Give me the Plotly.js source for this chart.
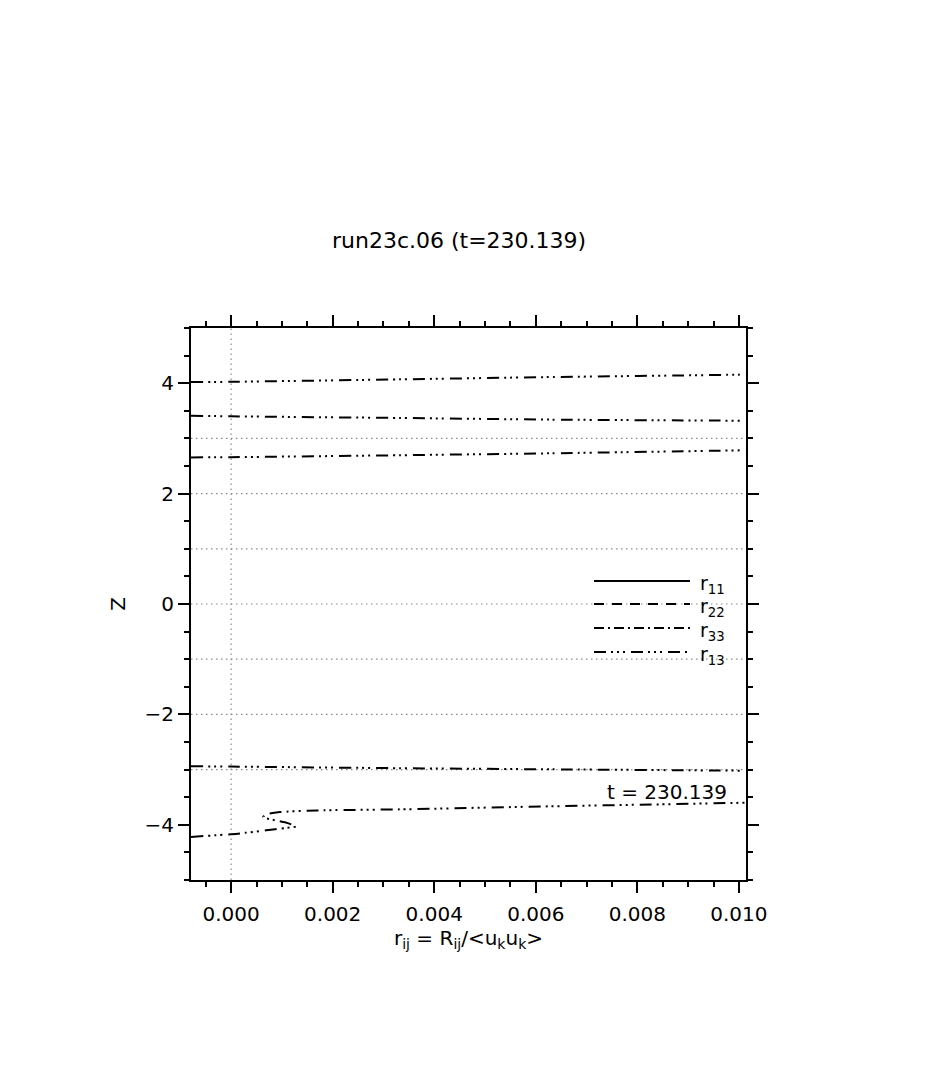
<!DOCTYPE html>
<html>
<head>
<meta charset="utf-8">
<script src="https://cdn.plot.ly/plotly-3.0.1.min.js"></script>
<style>
  html, body { margin: 0; padding: 0; background: #fff; }
  #chart { width: 935px; height: 1065px; }
</style>
</head>
<body>
<div id="chart"></div>
<script>
// ---- data ----
const chartTitle = "run23c.06 (t=230.139)";
const timeLabel = "t = 230.139";
const seriesNames = ["r<sub>11</sub>", "r<sub>22</sub>", "r<sub>33</sub>", "r<sub>13</sub>"];

// r13 branches (x = r13, z = Z)
const r13_a_x = [-0.00079, 0.0, 0.00333, 0.00618, 0.0100, 0.01014];
const r13_a_z = [4.02, 4.025, 4.07, 4.11, 4.155, 4.16];

const r13_b_x = [-0.00079, 0.0, 0.00333, 0.00628, 0.01014];
const r13_b_z = [3.41, 3.40, 3.37, 3.34, 3.32];

const r13_c_x = [-0.00079, 0.0, 0.00333, 0.00628, 0.01014];
const r13_c_z = [2.655, 2.66, 2.695, 2.73, 2.785];

const r13_d_x = [-0.00079, 0.0, 0.00333, 0.00628, 0.01014];
const r13_d_z = [-2.94, -2.945, -2.975, -2.995, -3.02];

const r13_e_x = [-0.00079, 0.0, 0.00018, 0.00069, 0.00106, 0.00128, 0.00106, 0.00077, 0.00063, 0.00069, 0.00096, 0.00169, 0.00333, 0.00628, 0.00844, 0.01014];
const r13_e_z = [-4.22, -4.17, -4.155, -4.10, -4.06, -4.03, -3.955, -3.90, -3.86, -3.81, -3.77, -3.74, -3.72, -3.665, -3.63, -3.60];

// reference grid levels
const gridZ = [-3, -2, -1, 0, 1, 2, 3];
const gridX = [0];

// ---- styles ----
const FONT = "DejaVu Sans, Liberation Sans, sans-serif";
const dashes = {
  r11: "solid",
  r22: "10px,8px",
  r33: "10px,4px,2px,4px",
  r13: "12px,5px,2px,4px,2px,4px,2px,6px"
};

const r13Branches = [
  [r13_a_x, r13_a_z], [r13_b_x, r13_b_z], [r13_c_x, r13_c_z],
  [r13_d_x, r13_d_z], [r13_e_x, r13_e_z]
];

const traces = r13Branches.map(([x, z], i) => ({
  type: "scatter", mode: "lines", x: x, y: z,
  name: "r13", showlegend: false, hoverinfo: "skip",
  line: { color: "#000", width: 2, dash: dashes.r13, shape: "spline", smoothing: 0.6 }
}));

const XR = [-0.00079, 0.01014];
const shapes = [];
gridZ.forEach(z => shapes.push({
  type: "line", xref: "x", yref: "y", x0: XR[0], x1: XR[1], y0: z, y1: z,
  layer: "below", line: { color: "#8a8a8a", width: 1.2, dash: "1.5px,3.5px" }
}));
gridX.forEach(x => shapes.push({
  type: "line", xref: "x", yref: "y", x0: x, x1: x, y0: -5, y1: 5,
  layer: "below", line: { color: "#8a8a8a", width: 1.2, dash: "1.5px,3.5px" }
}));

// manual legend (paper coords of plot area: x 191..746 px, y 328..880 px)
const W = 555, H = 552, L = 191, T = 328;
const px = v => (v - L) / W;
const py = v => (T + H - v) / H;
const legendKeys = ["r11", "r22", "r33", "r13"];
const legendRows = [581, 604, 628, 652];
const annotations = [];
legendKeys.forEach((k, i) => {
  shapes.push({
    type: "line", xref: "paper", yref: "paper",
    x0: px(594), x1: px(690), y0: py(legendRows[i]), y1: py(legendRows[i]),
    line: { color: "#000", width: 2, dash: dashes[k] }
  });
  annotations.push({
    xref: "paper", yref: "paper", x: px(698), y: py(legendRows[i] + 3),
    xanchor: "left", yanchor: "middle", showarrow: false,
    text: seriesNames[i], font: { family: FONT, size: 19, color: "#000" }
  });
});
annotations.push({
  xref: "x", yref: "y", x: 0.0098, y: -3.41, xanchor: "right", yanchor: "middle",
  showarrow: false, text: timeLabel, font: { family: FONT, size: 20, color: "#000" }
});

const layout = {
  width: 935, height: 1065,
  margin: { l: 191, r: 189, t: 328, b: 185, pad: 0 },
  paper_bgcolor: "#fff", plot_bgcolor: "#fff",
  font: { family: FONT, size: 20, color: "#000" },
  showlegend: false,
  title: {
    text: chartTitle, xref: "container", x: 0.491, xanchor: "center",
    yref: "container", y: 1 - 240 / 1065, yanchor: "middle",
    font: { family: FONT, size: 22, color: "#000" }
  },
  xaxis: {
    range: XR, tickvals: [0, 0.002, 0.004, 0.006, 0.008, 0.010],
    ticktext: ["0.000", "0.002", "0.004", "0.006", "0.008", "0.010"],
    showgrid: false, zeroline: false,
    showline: true, linecolor: "#000", linewidth: 2, mirror: "allticks",
    ticks: "outside", ticklen: 11, tickwidth: 2, tickcolor: "#000",
    ticklabelstandoff: 4,
    minor: { tick0: 0, dtick: 0.0005, ticks: "outside", ticklen: 5, tickwidth: 2, tickcolor: "#000", showgrid: false },
    tickfont: { family: FONT, size: 20 },
    title: { text: "r<sub>ij</sub> = R<sub>ij</sub>/&lt;u<sub>k</sub>u<sub>k</sub>&gt;", font: { family: FONT, size: 20 }, standoff: 6 }
  },
  yaxis: {
    range: [-5, 5], tick0: 0, dtick: 2,
    showgrid: false, zeroline: false,
    showline: true, linecolor: "#000", linewidth: 2, mirror: "allticks",
    ticks: "outside", ticklen: 11, tickwidth: 2, tickcolor: "#000",
    minor: { tick0: 0, dtick: 0.5, ticks: "outside", ticklen: 5, tickwidth: 2, tickcolor: "#000", showgrid: false },
    tickfont: { family: FONT, size: 20 },
    title: { text: "Z", font: { family: FONT, size: 20 }, standoff: 14 }
  },
  shapes: shapes,
  annotations: annotations
};

Plotly.newPlot("chart", traces, layout, { displayModeBar: false, staticPlot: true });
</script>
</body>
</html>
